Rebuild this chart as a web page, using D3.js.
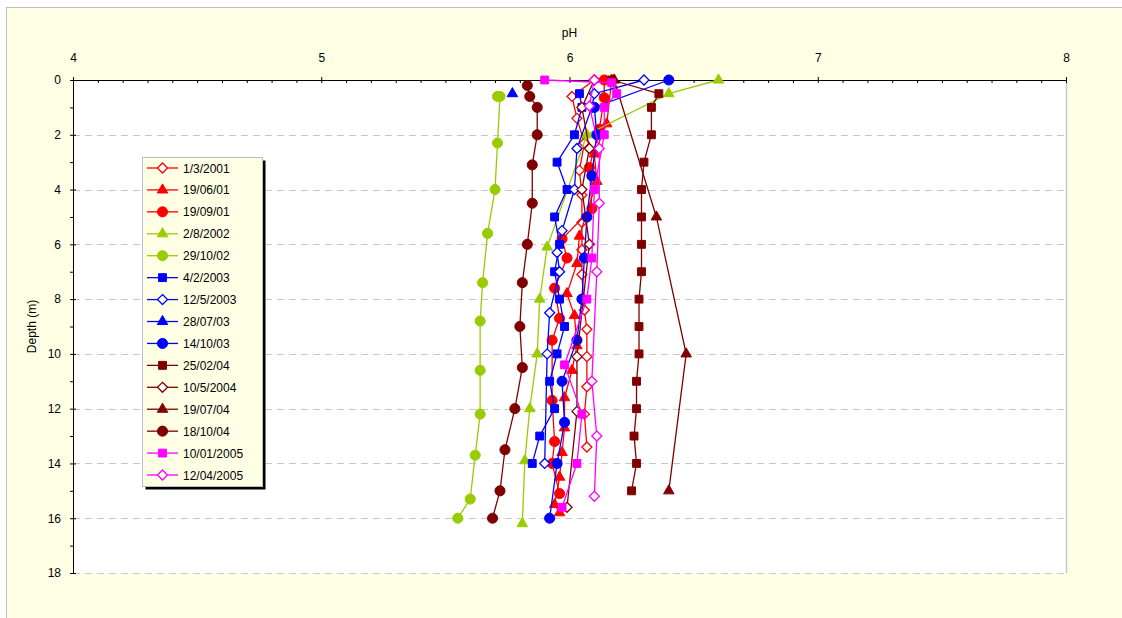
<!DOCTYPE html>
<html><head><meta charset="utf-8">
<script src="https://cdn.jsdelivr.net/npm/d3@7"></script>
<style>body{margin:0;background:#fff;}svg{display:block;font-family:Arial,"Liberation Sans",sans-serif;}</style>
</head><body>
<svg id="chart" width="1122" height="618"></svg>
<script>
// ---- Data: [depth (m), pH] ----
const seriesNames = ["1/3/2001","19/06/01","19/09/01","2/8/2002","29/10/02","4/2/2003","12/5/2003","28/07/03","14/10/03","25/02/04","10/5/2004","19/07/04","18/10/04","10/01/2005","12/04/2005"];
const d20010301 = [[0,6.10],[0.6,6.01],[1.4,6.03],[2.3,6.06],[3.3,6.04],[4.2,6.05],[5.2,6.05],[6.2,6.05],[7.1,6.05],[8.4,6.06],[9.1,6.07],[10.1,6.07],[11.2,6.07],[12.2,6.06],[13.4,6.07]];
const d20010619 = [[0,6.17],[1.6,6.15],[2.7,6.10],[3.7,6.11],[5.7,6.04],[6.7,6.03],[7.8,5.99],[8.6,6.02],[9.7,6.03],[10.6,6.01],[11.6,5.98],[12.7,5.98],[13.6,5.97],[14.5,5.96],[15.5,5.94],[15.8,5.96]];
const d20010919 = [[0,6.14],[0.65,6.14],[1.8,6.12],[3.2,6.08],[4.7,6.09],[5.8,5.97],[6.5,5.99],[7.6,5.94],[8.7,5.96],[9.5,5.93],[11.7,5.93],[13.2,5.94],[14.0,5.93],[15.1,5.96]];
const d20020802 = [[0,6.60],[0.5,6.40],[2.0,6.07],[6.1,5.91],[8.0,5.88],[10.0,5.87],[12.0,5.84],[13.9,5.82],[16.2,5.81]];
const d20021029 = [[0.6,5.71],[0.6,5.72],[2.3,5.71],[4.0,5.70],[5.6,5.67],[7.4,5.65],[8.8,5.64],[10.6,5.64],[12.2,5.64],[13.7,5.62],[15.3,5.60],[16.0,5.55]];
const d20030204 = [[0.5,6.04],[1.0,6.05],[2.0,6.02],[3.0,5.95],[4.0,5.99],[5.0,5.94],[6.0,5.96],[7.0,5.94],[8.0,5.96],[9.0,5.98],[10.0,5.95],[11.0,5.92],[12.0,5.94],[13.0,5.88],[14.0,5.85]];
const d20030512 = [[0,6.30],[0.5,6.10],[1.0,6.09],[2.5,6.03],[4.0,6.02],[5.5,5.97],[6.3,5.95],[7.0,5.96],[8.5,5.92],[10.0,5.91],[14.0,5.90]];
const d20030728 = [[0.5,5.77]];
const d20031014 = [[0,6.40],[1.0,6.10],[2.0,6.11],[3.5,6.09],[5.0,6.07],[6.5,6.06],[8.0,6.05],[9.5,6.03],[11.0,5.97],[12.5,5.98],[14.0,5.95],[16.0,5.92]];
const d20040225 = [[0,6.17],[0.5,6.36],[1.0,6.33],[2.0,6.33],[3.0,6.30],[4.0,6.29],[5.0,6.29],[6.0,6.29],[7.0,6.29],[8.0,6.28],[9.0,6.28],[10.0,6.28],[11.0,6.27],[12.0,6.27],[13.0,6.26],[14.0,6.27],[15.0,6.25]];
const d20040510 = [[0,6.10],[1.0,6.05],[2.5,6.08],[4.0,6.05],[6.0,6.08],[10.1,6.03],[12.1,6.03],[15.6,5.99]];
const d20040719 = [[0,6.18],[5.0,6.35],[10.0,6.47],[15.0,6.40]];
const d20041018 = [[0.2,5.83],[0.6,5.84],[1.0,5.87],[2.0,5.87],[3.1,5.85],[4.5,5.85],[6.0,5.83],[7.4,5.81],[9.0,5.80],[10.5,5.81],[12.0,5.78],[13.5,5.74],[15.0,5.72],[16.0,5.69]];
const d20050110 = [[0,5.90],[0.1,6.17],[0.5,6.19],[1.0,6.14],[2.0,6.14],[4.0,6.10],[6.5,6.09],[8.0,6.07],[10.4,5.98],[12.2,6.05],[14.0,6.03],[15.6,5.97]];
const d20050412 = [[0,6.10],[0.95,6.08],[2.5,6.12],[4.5,6.12],[7.0,6.11],[11.0,6.09],[13.0,6.11],[15.2,6.10]];
const seriesData = [d20010301,d20010619,d20010919,d20020802,d20021029,d20030204,d20030512,d20030728,d20031014,d20040225,d20040510,d20040719,d20041018,d20050110,d20050412];
const xTicks = [4,5,6,7,8];
const yTicks = [0,2,4,6,8,10,12,14,16,18];

// ---- Styles ----
const RED="#FF0000", GRN="#99CC00", BLU="#0000FF", BRN="#800000", MAG="#FF00FF";
const colors = [RED,RED,RED,GRN,GRN,BLU,BLU,BLU,BLU,BRN,BRN,BRN,BRN,MAG,MAG];
const shapes = ["dia","tri","cir","tri","cir","sq","dia","tri","cir","sq","dia","tri","cir","sq","dia"];

const svg = d3.select("#chart");
svg.append("rect").attr("x",6.5).attr("y",7.5).attr("width",1125).attr("height",620)
  .attr("fill","#FFFFE6").attr("stroke","#BDBDBD").attr("stroke-width",1);

const x = d3.scaleLinear().domain([4,8]).range([73,1066]);
const y = d3.scaleLinear().domain([0,18]).range([80,573]);

svg.append("rect").attr("x",x(4)).attr("y",y(0)).attr("width",x(8)-x(4)).attr("height",y(18)-y(0))
  .attr("fill","#fff");
svg.append("line").attr("x1",x(8)+0.5).attr("x2",x(8)+0.5).attr("y1",y(0)).attr("y2",y(18))
  .attr("stroke","#C8C8C8").attr("stroke-width",1.5);

svg.append("g").selectAll("line").data(yTicks.filter(d=>d>0)).join("line")
  .attr("x1",x(4)).attr("x2",x(8)).attr("y1",d=>Math.round(y(d))+0.5).attr("y2",d=>Math.round(y(d))+0.5)
  .attr("stroke","#C8C8C8").attr("stroke-dasharray","7,5");

// x axis (top)
const xMinor = d3.range(40,81).map(v=>v/10).filter(v=>!xTicks.includes(v));
svg.append("g").attr("transform",`translate(0,${y(0)})`)
  .call(d3.axisBottom(x).tickValues(xMinor).tickSize(3).tickFormat(""))
  .call(g=>g.select(".domain").remove());
const gx = svg.append("g").attr("transform",`translate(0,${y(0)})`)
  .call(d3.axisTop(x).tickValues(xTicks).tickSize(3).tickPadding(15).tickFormat(d3.format("d")));
gx.selectAll(".tick line").attr("y2",-3).attr("y1",3);
gx.selectAll("text").attr("font-size",12).attr("fill","#000").attr("font-family","Arial,'Liberation Sans',sans-serif");
gx.select(".domain").attr("stroke","#000");
svg.append("text").attr("x",x(6)).attr("y",37).attr("text-anchor","middle").attr("font-size",12).text("pH");

// y axis (left)
const yMinor = d3.range(1,18,2);
svg.append("g").attr("transform",`translate(${x(4)},0)`)
  .call(d3.axisLeft(y).tickValues(yMinor).tickSize(3).tickFormat(""))
  .call(g=>g.select(".domain").remove());
const gy = svg.append("g").attr("transform",`translate(${x(4)},0)`)
  .call(d3.axisLeft(y).tickValues(yTicks).tickSize(3).tickPadding(9).tickFormat(d3.format("d")));
gy.selectAll(".tick line").attr("x1",3);
gy.selectAll("text").attr("font-size",12).attr("fill","#000").attr("font-family","Arial,'Liberation Sans',sans-serif");
gy.select(".domain").attr("stroke","#000");
svg.append("text").attr("transform",`translate(36,${y(9)}) rotate(-90)`).attr("text-anchor","middle")
  .attr("font-size",12).text("Depth (m)");

// square-diamond symbol (rotated square)
const squareDiamond = { draw(ctx, size){ const r = Math.sqrt(size/2); ctx.moveTo(0,-r); ctx.lineTo(r,0); ctx.lineTo(0,r); ctx.lineTo(-r,0); ctx.closePath(); } };
function marker(sel, shape, color){
  const map = {dia:[squareDiamond,50], tri:[d3.symbolTriangle,48], cir:[d3.symbolCircle,80], sq:[d3.symbolSquare,62]};
  const [t,s] = map[shape];
  sel.attr("d", d3.symbol().type(t).size(s)())
    .attr("fill", shape==="dia" ? "#fff" : color)
    .attr("stroke", color).attr("stroke-width", shape==="dia"?1.3:1);
}

const line = d3.line().x(d=>x(d[1])).y(d=>y(d[0]));
const plot = svg.append("g");
seriesData.forEach((data,i)=>{
  const g = plot.append("g");
  g.append("path").datum(data).attr("d",line).attr("fill","none").attr("stroke",colors[i]).attr("stroke-width",1.3);
  g.selectAll("path.m").data(data).join("path").attr("class","m")
    .attr("transform",d=>`translate(${x(d[1])},${y(d[0])})`)
    .call(marker, shapes[i], colors[i]);
});

// legend
const lg = svg.append("g");
lg.append("rect").attr("x",145.5).attr("y",160.5).attr("width",120).attr("height",329).attr("fill","#000");
lg.append("rect").attr("x",142.5).attr("y",157.5).attr("width",120).attr("height",329)
  .attr("fill","#FFFFE6").attr("stroke","#BDBDBD");
seriesNames.forEach((name,i)=>{
  const yy = 168 + i*21.93;
  lg.append("line").attr("x1",147).attr("x2",178).attr("y1",yy).attr("y2",yy).attr("stroke",colors[i]).attr("stroke-width",1.3);
  lg.append("path").attr("transform",`translate(162.5,${yy})`).call(marker, shapes[i], colors[i]);
  lg.append("text").attr("x",183).attr("y",yy+4.5).attr("font-size",12).text(name);
});
</script>
</body></html>
